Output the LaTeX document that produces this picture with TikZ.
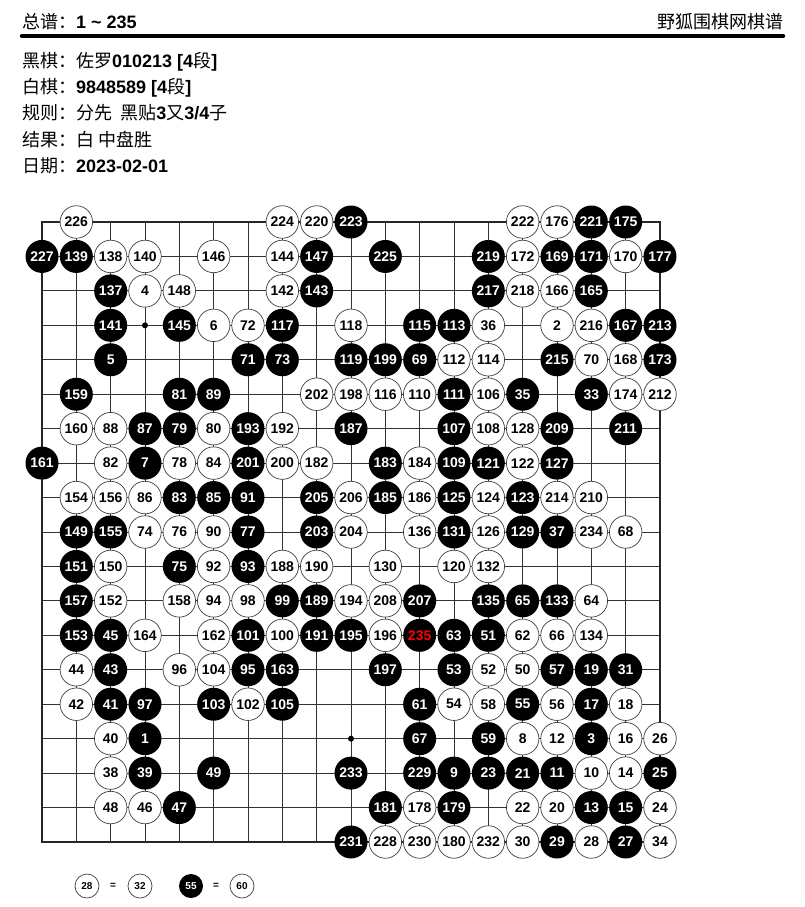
\documentclass[tikz,border=0pt]{standalone}
\usepackage{fontspec}
\setmainfont{Liberation Sans}
\newfontfamily\cjk{Noto Sans CJK SC}
\newcommand\lt{\normalfont\bfseries}
\begin{document}
\begin{tikzpicture}[x=1pt,y=-1pt,
  info/.style={anchor=west,inner sep=0pt,font=\fontsize{18}{21}\selectfont},
  bst/.style={circle,fill=black,text=white,minimum size=33pt,inner sep=0pt,font=\fontsize{14}{14}\selectfont\bfseries},
  wst/.style={circle,draw=black!75,line width=0.7pt,fill=white,text=black,minimum size=32.5pt,inner sep=0pt,font=\fontsize{14}{14}\selectfont\bfseries},
  bsm/.style={circle,fill=black,text=white,minimum size=24pt,inner sep=0pt,font=\fontsize{10}{10}\selectfont\bfseries},
  wsm/.style={circle,draw=black!75,line width=0.7pt,fill=white,text=black,minimum size=24pt,inner sep=0pt,font=\fontsize{10}{10}\selectfont\bfseries},
  eqs/.style={inner sep=0pt,font=\fontsize{10}{10}\selectfont\bfseries},
  gridline/.style={line width=0.8pt,draw=black!80},
  border/.style={line width=1.6pt,draw=black!85},
  hoshi/.style={circle,fill=black,minimum size=6pt,inner sep=0pt}]
\useasboundingbox (0,0) rectangle (804,907);
\fill[white] (0,0) rectangle (804,907);
% header
\node[info] (title) at (22,22) {{\cjk 总谱：}{\lt 1 \textasciitilde{} 235}};
\node[info,anchor=east] (site) at (784,22) {\cjk 野狐围棋网棋谱};
\coordinate (ruleL) at (22,36);
\coordinate (ruleR) at (783,36);
\draw[line width=4.5pt,line cap=round] (ruleL) -- (ruleR);
\node[info] (blk) at (22,62) {{\cjk 黑棋：佐罗}{\lt 010213 [4}{\cjk 段}{\lt ]}};
\node[info] (wht) at (22,88) {{\cjk 白棋：}{\lt 9848589 [4}{\cjk 段}{\lt ]}};
\node[info] (rule) at (22,113) {{\cjk 规则：分先\ \ 黑贴}{\lt 3}{\cjk 又}{\lt 3/4}{\cjk 子}};
\node[info] (res) at (22,140) {{\cjk 结果：白 中盘胜}};
\node[info] (date) at (22,166) {{\cjk 日期：}{\lt 2023-02-01}};
% board
\begin{scope}[shift={(42,222)},x=34.333pt,y=-34.444pt]
\foreach \i in {1,...,17} {
  \draw[gridline] (\i,0) -- (\i,18);
  \draw[gridline] (0,\i) -- (18,\i);
}
\draw[border] (0,0) rectangle (18,18);
\node[hoshi] (h1) at (3,3) {};
\node[hoshi] (h2) at (9,15) {};
\foreach \c/\r/\n in {
 9/0/223, 16/0/221, 17/0/175,
 0/1/227, 1/1/139, 8/1/147, 10/1/225, 13/1/219, 15/1/169, 16/1/171, 18/1/177,
 2/2/137, 8/2/143, 13/2/217, 16/2/165,
 2/3/141, 4/3/145, 7/3/117, 11/3/115, 12/3/113, 17/3/167, 18/3/213,
 2/4/5, 6/4/71, 7/4/73, 9/4/119, 10/4/199, 11/4/69, 15/4/215, 18/4/173,
 1/5/159, 4/5/81, 5/5/89, 12/5/111, 14/5/35, 16/5/33,
 3/6/87, 4/6/79, 6/6/193, 9/6/187, 12/6/107, 15/6/209, 17/6/211,
 0/7/161, 3/7/7, 6/7/201, 10/7/183, 12/7/109, 13/7/121, 15/7/127,
 4/8/83, 5/8/85, 6/8/91, 8/8/205, 10/8/185, 12/8/125, 14/8/123,
 1/9/149, 2/9/155, 6/9/77, 8/9/203, 12/9/131, 14/9/129, 15/9/37,
 1/10/151, 4/10/75, 6/10/93,
 1/11/157, 7/11/99, 8/11/189, 11/11/207, 13/11/135, 14/11/65, 15/11/133,
 1/12/153, 2/12/45, 6/12/101, 8/12/191, 9/12/195, 12/12/63, 13/12/51,
 2/13/43, 6/13/95, 7/13/163, 10/13/197, 12/13/53, 15/13/57, 16/13/19, 17/13/31,
 2/14/41, 3/14/97, 5/14/103, 7/14/105, 11/14/61, 14/14/55, 16/14/17,
 3/15/1, 11/15/67, 13/15/59, 16/15/3,
 3/16/39, 5/16/49, 9/16/233, 11/16/229, 12/16/9, 13/16/23, 14/16/21, 15/16/11, 18/16/25,
 4/17/47, 10/17/181, 12/17/179, 16/17/13, 17/17/15,
 9/18/231, 15/18/29, 17/18/27}
 \node[bst] (s\n) at (\c,\r) {\n};
\node[bst,text=red] (s235) at (11,12) {235};
\foreach \c/\r/\n in {
 1/0/226, 7/0/224, 8/0/220, 14/0/222, 15/0/176,
 2/1/138, 3/1/140, 5/1/146, 7/1/144, 14/1/172, 17/1/170,
 3/2/4, 4/2/148, 7/2/142, 14/2/218, 15/2/166,
 5/3/6, 6/3/72, 9/3/118, 13/3/36, 15/3/2, 16/3/216,
 12/4/112, 13/4/114, 16/4/70, 17/4/168,
 8/5/202, 9/5/198, 10/5/116, 11/5/110, 13/5/106, 17/5/174, 18/5/212,
 1/6/160, 2/6/88, 5/6/80, 7/6/192, 13/6/108, 14/6/128,
 2/7/82, 4/7/78, 5/7/84, 7/7/200, 8/7/182, 11/7/184, 14/7/122,
 1/8/154, 2/8/156, 3/8/86, 9/8/206, 11/8/186, 13/8/124, 15/8/214, 16/8/210,
 3/9/74, 4/9/76, 5/9/90, 9/9/204, 11/9/136, 13/9/126, 16/9/234, 17/9/68,
 2/10/150, 5/10/92, 7/10/188, 8/10/190, 10/10/130, 12/10/120, 13/10/132,
 2/11/152, 4/11/158, 5/11/94, 6/11/98, 9/11/194, 10/11/208, 16/11/64,
 3/12/164, 5/12/162, 7/12/100, 10/12/196, 14/12/62, 15/12/66, 16/12/134,
 1/13/44, 4/13/96, 5/13/104, 13/13/52, 14/13/50,
 1/14/42, 6/14/102, 12/14/54, 13/14/58, 15/14/56, 17/14/18,
 2/15/40, 14/15/8, 15/15/12, 17/15/16, 18/15/26,
 2/16/38, 16/16/10, 17/16/14,
 2/17/48, 3/17/46, 11/17/178, 14/17/22, 15/17/20, 18/17/24,
 10/18/228, 11/18/230, 12/18/180, 13/18/232, 14/18/30, 16/18/28, 18/18/34}
 \node[wst] (s\n) at (\c,\r) {\n};
\end{scope}
% legend
\node[wsm] (l28) at (87,886) {28};
\node[eqs] (e1) at (113,886) {=};
\node[wsm] (l32) at (140,886) {32};
\node[bsm] (l55) at (191,886) {55};
\node[eqs] (e2) at (216,886) {=};
\node[wsm] (l60) at (242,886) {60};
\end{tikzpicture}
\end{document}
